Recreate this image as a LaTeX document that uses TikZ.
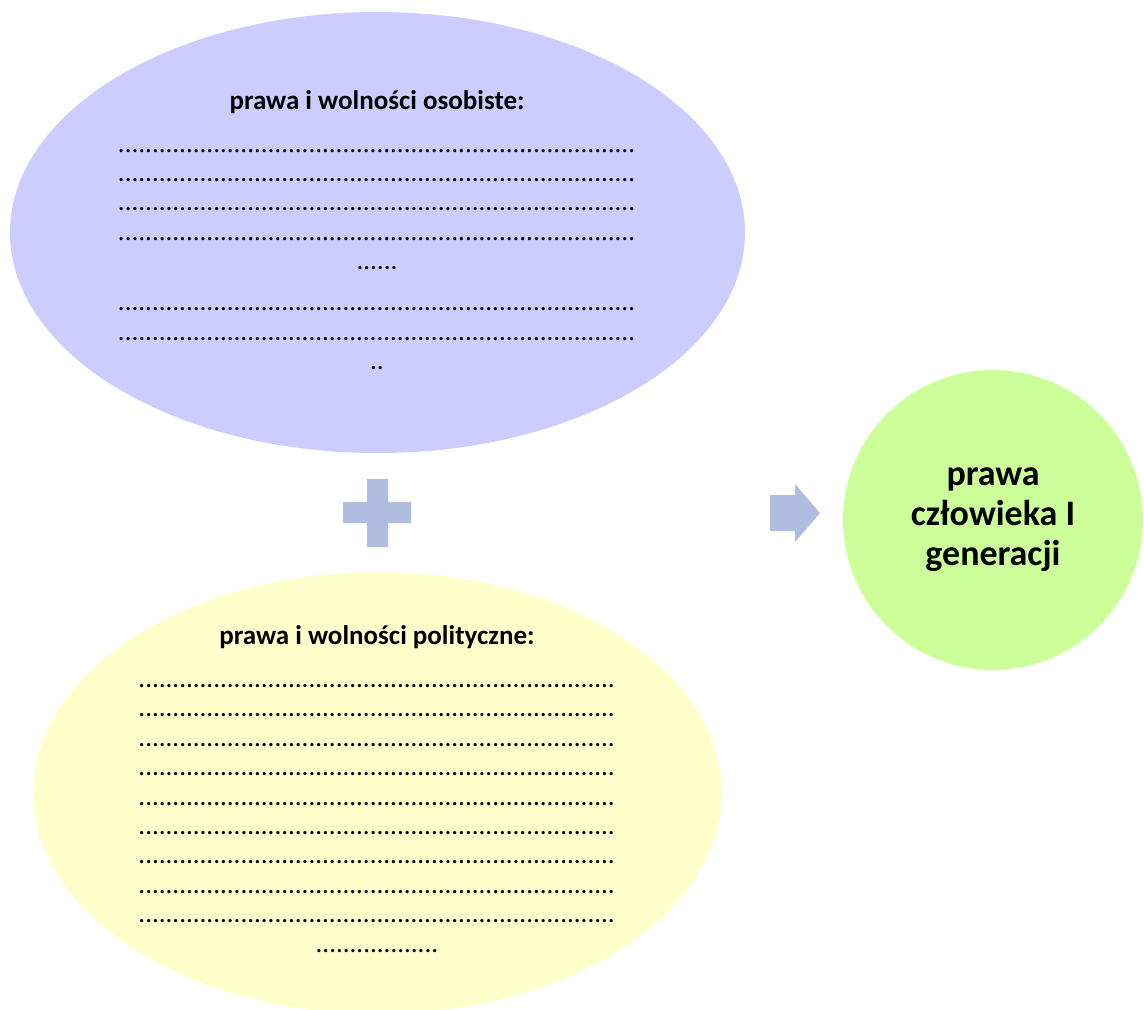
\documentclass[tikz,border=0pt]{standalone}
\usepackage{fontspec}
\setmainfont{Carlito}
\usetikzlibrary{shapes.geometric, positioning}

\definecolor{fiolet}{HTML}{CCCCFF}
\definecolor{zolty}{HTML}{FFFFCC}
\definecolor{zielony}{HTML}{CCFF99}
\definecolor{znak}{HTML}{AFBDE0}

\newcommand{\kropki}[1]{\foreach \k in {1,...,#1}{.}}

\begin{document}
\begin{tikzpicture}[
   x=0.5pt, y=-0.5pt,
   owal/.style={
     ellipse,
     fill=#1,
     draw=none,
     inner sep=0pt,
    },
   lista/.style={
     align=center,
     inner sep=0pt,
     font=\fontsize{13.5}{14.7}\selectfont,
    },
   kolo/.style={
     circle,
     fill=zielony,
     draw=none,
     inner sep=0pt,
     minimum size=150pt,
     align=center,
     font=\fontsize{18}{20}\selectfont\bfseries,
    },
  ]
\useasboundingbox (0,0) rectangle (1144,1009);

\node[owal=fiolet, minimum width=367.5pt, minimum height=220.5pt] (osobiste) at (377.5,232.5) {};
\node[owal=zolty, minimum width=344.5pt, minimum height=221pt] (polityczne) at (377.5,793) {};
\node[kolo] (generacja) at (993,520) {prawa\\człowieka I\\generacji};

\node[lista] (osobisteTxt) at (377,230) {\textbf{prawa i wolności osobiste:}\\[6.8pt]
  \kropki{76}\\\kropki{76}\\\kropki{76}\\\kropki{76}\\\kropki{6}\\[5.8pt]
  \kropki{76}\\\kropki{76}\\\kropki{2}};
\node[lista] (polityczneTxt) at (377,789) {\textbf{prawa i wolności polityczne:}\\[6.8pt]
  \kropki{70}\\\kropki{70}\\\kropki{70}\\\kropki{70}\\\kropki{70}\\
  \kropki{70}\\\kropki{70}\\\kropki{70}\\\kropki{70}\\\kropki{18}};

% plus i strzalka
\fill[znak] (367,479) -- (388,479) -- (388,502) -- (411,502) -- (411,523) -- (388,523)
  -- (388,547) -- (367,547) -- (367,523) -- (343,523) -- (343,502) -- (367,502) -- cycle;
\fill[znak] (770,495) -- (795,495) -- (795,484) -- (820,513) -- (795,542) -- (795,531)
  -- (770,531) -- cycle;
\end{tikzpicture}
\end{document}
